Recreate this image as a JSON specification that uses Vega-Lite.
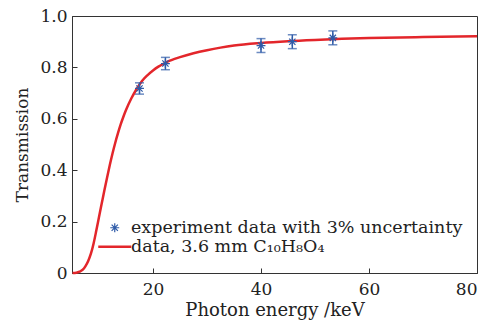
{
  "$schema": "https://vega.github.io/schema/vega-lite/v6.json",
  "width": 405,
  "height": 257,
  "autosize": {"type": "none"},
  "padding": {"left": 72, "top": 16, "right": 16, "bottom": 47},
  "background": "white",
  "config": {
    "font": "DejaVu Serif",
    "view": {"stroke": "#333", "strokeWidth": 1},
    "axis": {
      "grid": false,
      "domainColor": "#333",
      "tickColor": "#333",
      "labelColor": "#222",
      "titleColor": "#222",
      "labelFont": "DejaVu Serif",
      "titleFont": "DejaVu Serif",
      "labelFontSize": 17,
      "titleFontSize": 17,
      "titleFontWeight": "normal",
      "tickSize": -5
    },
    "legend": {
      "labelFont": "DejaVu Serif",
      "labelFontSize": 17.5,
      "labelColor": "#222",
      "labelLimit": 0
    }
  },
  "datasets": {
    "curve": [
      {"energy": 5.1, "transmission": 0.0},
      {"energy": 5.8, "transmission": 0.001},
      {"energy": 6.4, "transmission": 0.005},
      {"energy": 7.0, "transmission": 0.013},
      {"energy": 7.5, "transmission": 0.027},
      {"energy": 8.0, "transmission": 0.047},
      {"energy": 8.5, "transmission": 0.075},
      {"energy": 9.0, "transmission": 0.115},
      {"energy": 9.5, "transmission": 0.165},
      {"energy": 10.0, "transmission": 0.218},
      {"energy": 10.5, "transmission": 0.27},
      {"energy": 11.0, "transmission": 0.322},
      {"energy": 11.5, "transmission": 0.372},
      {"energy": 12.0, "transmission": 0.42},
      {"energy": 12.5, "transmission": 0.465},
      {"energy": 13.0, "transmission": 0.506},
      {"energy": 13.5, "transmission": 0.543},
      {"energy": 14.0, "transmission": 0.577},
      {"energy": 14.5, "transmission": 0.607},
      {"energy": 15.0, "transmission": 0.634},
      {"energy": 16.0, "transmission": 0.68},
      {"energy": 17.0, "transmission": 0.717},
      {"energy": 18.0, "transmission": 0.748},
      {"energy": 19.0, "transmission": 0.77},
      {"energy": 20.0, "transmission": 0.788},
      {"energy": 21.0, "transmission": 0.803},
      {"energy": 22.0, "transmission": 0.815},
      {"energy": 23.0, "transmission": 0.825},
      {"energy": 24.0, "transmission": 0.833},
      {"energy": 25.0, "transmission": 0.84},
      {"energy": 27.5, "transmission": 0.855},
      {"energy": 30.0, "transmission": 0.867},
      {"energy": 32.5, "transmission": 0.877},
      {"energy": 35.0, "transmission": 0.885},
      {"energy": 40.0, "transmission": 0.895},
      {"energy": 45.0, "transmission": 0.902},
      {"energy": 50.0, "transmission": 0.907},
      {"energy": 55.0, "transmission": 0.911},
      {"energy": 60.0, "transmission": 0.914},
      {"energy": 70.0, "transmission": 0.918},
      {"energy": 80.0, "transmission": 0.921}
    ],
    "experiment": [
      {"energy": 17.5, "transmission": 0.718, "error": 0.022},
      {"energy": 22.3, "transmission": 0.815, "error": 0.024},
      {"energy": 40.0, "transmission": 0.885, "error": 0.027},
      {"energy": 45.8, "transmission": 0.9, "error": 0.027},
      {"energy": 53.3, "transmission": 0.915, "error": 0.027}
    ]
  },
  "encoding": {
    "x": {
      "field": "energy",
      "type": "quantitative",
      "scale": {"domain": [5, 80], "nice": false, "zero": false},
      "axis": {"title": "Photon energy /keV", "titleFontSize": 18, "values": [20, 40, 60, 80], "labelPadding": 13, "titlePadding": 4}
    },
    "y": {
      "field": "transmission",
      "type": "quantitative",
      "scale": {"domain": [0, 1], "nice": false},
      "axis": {
        "title": "Transmission",
        "values": [0, 0.2, 0.4, 0.6, 0.8, 1.0],
        "labelExpr": "datum.value === 0 ? '0' : format(datum.value, '.1f')",
        "labelPadding": 10,
        "titlePadding": 8
      }
    }
  },
  "layer": [
    {
      "data": {"name": "curve"},
      "mark": {"type": "line", "strokeWidth": 2.5, "interpolate": "monotone"},
      "encoding": {
        "color": {
          "datum": "data, 3.6 mm C₁₀H₈O₄",
          "type": "nominal",
          "scale": {
            "domain": ["experiment data with 3% uncertainty", "data, 3.6 mm C₁₀H₈O₄"],
            "range": ["#2f5ba8", "#e3262b"]
          },
          "legend": {
            "title": null,
            "orient": "none",
            "legendX": 34,
            "legendY": 203,
            "padding": 0,
            "symbolSize": 1089,
            "labelOffset": 7.5,
            "rowPadding": 0,
            "encode": {
              "symbols": {
                "update": {
                  "shape": {"signal": "datum.value === 'data, 3.6 mm C₁₀H₈O₄' ? 'stroke' : 'M-0.27,0L0.27,0M0,-0.27L0,0.27M-0.19,-0.19L0.19,0.19M-0.19,0.19L0.19,-0.19'"},
                  "strokeWidth": {"signal": "datum.value === 'data, 3.6 mm C₁₀H₈O₄' ? 2.5 : 1.2"},
                  "fill": {"value": "transparent"},
                  "stroke": {"scale": "color", "field": "value"}
                }
              }
            }
          }
        }
      }
    },
    {
      "data": {"name": "experiment"},
      "mark": {"type": "errorbar", "ticks": {"size": 9, "thickness": 1.5}, "color": "#2f5ba8", "thickness": 1.5},
      "encoding": {
        "yError": {"field": "error"}
      }
    },
    {
      "data": {"name": "experiment"},
      "mark": {
        "type": "point",
        "shape": "M-0.27,0L0.27,0M0,-0.27L0,0.27M-0.19,-0.19L0.19,0.19M-0.19,0.19L0.19,-0.19",
        "size": 1089,
        "filled": false,
        "strokeWidth": 1.2,
        "opacity": 1
      },
      "encoding": {
        "color": {"datum": "experiment data with 3% uncertainty", "type": "nominal"}
      }
    }
  ]
}
